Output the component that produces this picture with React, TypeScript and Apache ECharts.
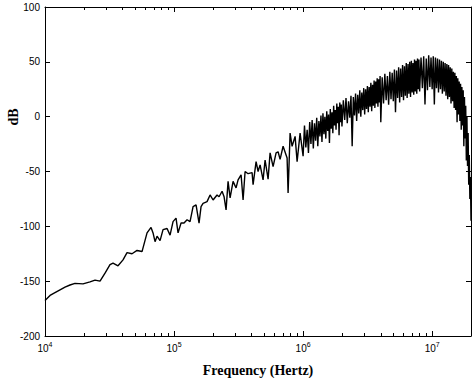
import React, { useEffect, useRef } from "react";
import * as echarts from "echarts";

// Smooth low-frequency part (Hz, dB)
const lowFreq = [1.0e4, 1.094e4, 1.195e4, 1.307e4, 1.429e4, 1.562e4, 1.708e4, 1.97e4, 2.233e4, 2.441e4, 2.669e4, 2.918e4, 3.19e4, 3.366e4, 3.68e4, 4.024e4, 4.322e4, 4.725e4, 5.167e4, 5.648e4, 6.176e4, 6.633e4, 6.874e4, 7.124e4, 7.383e4, 7.79e4, 8.217e4, 8.826e4, 9.312e4, 9.822e4];
const lowDb = [-167.7, -163, -160.5, -158, -155.5, -153.5, -152, -152.5, -150.7, -149, -150, -142.7, -135, -133.5, -136, -130.6, -124, -125, -122, -123, -106, -101, -106, -114, -109, -113, -103, -102, -108, -95.7];

// Mid part, growing ripple
const midFreq = [1.036e5, 1.074e5, 1.133e5, 1.195e5, 1.261e5, 1.33e5, 1.404e5, 1.481e5, 1.562e5, 1.619e5, 1.678e5, 1.802e5, 1.902e5, 2.006e5, 2.154e5, 2.233e5, 2.356e5, 2.441e5, 2.53e5, 2.622e5, 2.718e5, 2.867e5, 3.024e5, 3.134e5, 3.307e5, 3.427e5, 3.552e5, 3.747e5, 4.024e5, 4.097e5, 4.322e5, 4.479e5, 4.642e5, 4.897e5, 5.075e5, 5.355e5, 5.549e5, 5.853e5, 6.176e5, 6.4e5, 6.633e5, 6.998e5, 7.516e5, 7.65e5, 7.928e5, 8.217e5, 8.67e5, 8.985e5, 9.478e5];
const midDb = [-92.5, -106, -97, -97, -94, -95.7, -82, -80.5, -97, -82, -79, -77.5, -71.4, -76, -71.4, -73, -68, -73, -85, -59, -74, -59, -65, -57.7, -53, -76, -50, -52, -51, -62, -41, -50, -44, -57.7, -39.5, -57, -33, -45.5, -33, -32, -39, -27, -37.7, -69.6, -15, -27, -18, -41, -15];

// Dense high-frequency part, 1 MHz to 2 MHz
const band1Freq = [1.0e6, 1.025e6, 1.05e6, 1.075e6, 1.1e6, 1.125e6, 1.15e6, 1.175e6, 1.2e6, 1.225e6, 1.25e6, 1.275e6, 1.3e6, 1.325e6, 1.35e6, 1.375e6, 1.4e6, 1.425e6, 1.45e6, 1.475e6, 1.5e6, 1.525e6, 1.55e6, 1.575e6, 1.6e6, 1.625e6, 1.65e6, 1.675e6, 1.7e6, 1.725e6, 1.75e6, 1.775e6, 1.8e6, 1.825e6, 1.85e6, 1.875e6, 1.9e6, 1.925e6, 1.95e6, 1.975e6, 2.0e6];
const band1Db = [-36, -8, -28, -12, -33, -5, -25, -3, -29, -6, -22, -1, -27, -4, -18, 1, -23, 3, -16, 0, -20, 5, -13, 2, -24, 7, -11, 4, -15, 10, -8, 6, -12, 12, -6, 9, -17, 13, -5, 11, -9];

// 2 MHz to 4 MHz
const band2Freq = [2.05e6, 2.1e6, 2.15e6, 2.2e6, 2.25e6, 2.3e6, 2.35e6, 2.4e6, 2.45e6, 2.5e6, 2.55e6, 2.6e6, 2.65e6, 2.7e6, 2.75e6, 2.8e6, 2.85e6, 2.9e6, 2.95e6, 3.0e6, 3.05e6, 3.1e6, 3.15e6, 3.2e6, 3.25e6, 3.3e6, 3.35e6, 3.4e6, 3.45e6, 3.5e6, 3.55e6, 3.6e6, 3.65e6, 3.7e6, 3.75e6, 3.8e6, 3.85e6, 3.9e6, 3.95e6, 4.0e6];
const band2Db = [15, -3, 17, -6, 14, -1, 19, -27, 18, 1, 21, -4, 20, 3, 24, 0, 22, 6, 26, 2, 25, 7, 28, 4, 27, 9, 31, 5, 29, 10, 33, 8, 32, 12, 35, 9, 34, 13, 37, -5];

// 4 MHz to 8 MHz
const band3Freq = [4.1e6, 4.2e6, 4.3e6, 4.4e6, 4.5e6, 4.6e6, 4.7e6, 4.8e6, 4.9e6, 5.0e6, 5.1e6, 5.2e6, 5.3e6, 5.4e6, 5.5e6, 5.6e6, 5.7e6, 5.8e6, 5.9e6, 6.0e6, 6.1e6, 6.2e6, 6.3e6, 6.4e6, 6.5e6, 6.6e6, 6.7e6, 6.8e6, 6.9e6, 7.0e6, 7.1e6, 7.2e6, 7.3e6, 7.4e6, 7.5e6, 7.6e6, 7.7e6, 7.8e6, 7.9e6, 8.0e6];
const band3Db = [36, 12, 39, 15, 37, 11, 41, 16, 40, 14, 43, 4, 42, 17, 45, 13, 44, 18, 47, 15, 46, 19, 49, 17, 48, 21, 50, 18, 51, 22, 49, 20, 52, 23, 51, 21, 53, 25, 52, 23];

// 8 MHz to 16 MHz
const band4Freq = [8.2e6, 8.4e6, 8.6e6, 8.8e6, 9.0e6, 9.2e6, 9.4e6, 9.6e6, 9.8e6, 1.0e7, 1.02e7, 1.04e7, 1.06e7, 1.08e7, 1.1e7, 1.12e7, 1.14e7, 1.16e7, 1.18e7, 1.2e7, 1.22e7, 1.24e7, 1.26e7, 1.28e7, 1.3e7, 1.32e7, 1.34e7, 1.36e7, 1.38e7, 1.4e7, 1.42e7, 1.44e7, 1.46e7, 1.48e7, 1.5e7, 1.52e7, 1.54e7, 1.56e7, 1.58e7, 1.6e7];
const band4Db = [54, 26, 55, 11, 53, 24, 56, 27, 54, 25, 55, 11, 54, 26, 53, 22, 52, 25, 51, 21, 50, 23, 49, 19, 48, 16, 47, 18, 45, 12, 44, 14, 41, 8, 40, 6, 37, -5, 35, 2];

// 16 MHz to 20 MHz roll-off
const band5Freq = [1.62e7, 1.64e7, 1.66e7, 1.68e7, 1.7e7, 1.72e7, 1.74e7, 1.76e7, 1.78e7, 1.8e7, 1.82e7, 1.84e7, 1.86e7, 1.88e7, 1.9e7, 1.92e7, 1.94e7, 1.96e7, 1.98e7, 2.0e7];
const band5Db = [32, -4, 30, -12, 27, -8, 24, -27, 18, -20, 10, -40, 0, -45, -15, -62, -35, -75, -55, -95];

const xMajorTicks = [1e4, 1e5, 1e6, 1e7];
const xMinorTicks = [2e4, 3e4, 4e4, 5e4, 6e4, 7e4, 8e4, 9e4, 2e5, 3e5, 4e5, 5e5, 6e5, 7e5, 8e5, 9e5, 2e6, 3e6, 4e6, 5e6, 6e6, 7e6, 8e6, 9e6];
const yMin = -200;
const yMax = 100;
const yStep = 50;

const FONT_SANS = '"Liberation Sans", Arial, sans-serif';
const FONT_SERIF = '"Liberation Serif", "Times New Roman", serif';

export default function App() {
  const ref = useRef<HTMLDivElement>(null);
  useEffect(() => {
    if (!ref.current) return;
    const chart = echarts.init(ref.current, null, { renderer: "svg" });
    const pairs = (f: number[], d: number[]) => f.map((v, i) => [v, d[i]]);
    const data = [
      ...pairs(lowFreq, lowDb),
      ...pairs(midFreq, midDb),
      ...pairs(band1Freq, band1Db),
      ...pairs(band2Freq, band2Db),
      ...pairs(band3Freq, band3Db),
      ...pairs(band4Freq, band4Db),
      ...pairs(band5Freq, band5Db),
    ];
    const baseX = {
      type: "log",
      logBase: 10,
      min: 1e4,
      max: 2e7,
      splitLine: { show: false },
      minorTick: { show: false },
      gridIndex: 0,
    };
    const line = { show: true, onZero: false, lineStyle: { color: "#000", width: 1 } };
    const noLine = { show: false, onZero: false };
    const exp = (v: number) => Math.round(Math.log10(v));
    chart.setOption({
      animation: false,
      backgroundColor: "#fff",
      grid: { left: 45, right: 3, top: 7, bottom: 48, containLabel: false },
      xAxis: [
        {
          ...baseX,
          position: "bottom",
          name: "Frequency (Hertz)",
          nameLocation: "middle",
          nameGap: 27,
          nameTextStyle: { fontFamily: FONT_SERIF, fontWeight: "bold", fontSize: 14, color: "#000" },
          axisLine: line,
          axisTick: { show: true, inside: true, length: 5, lineStyle: { color: "#000" }, customValues: xMajorTicks },
          axisLabel: {
            show: true,
            margin: 5,
            customValues: xMajorTicks,
            formatter: (v: number) => `{b|10}{s|${exp(v)}}`,
            rich: {
              b: { fontFamily: FONT_SANS, fontSize: 10, color: "#000", lineHeight: 14 },
              s: { fontFamily: FONT_SANS, fontSize: 7, color: "#000", lineHeight: 6, verticalAlign: "top" },
            },
          },
        },
        {
          ...baseX,
          position: "bottom",
          axisLine: noLine,
          axisTick: { show: true, inside: true, length: 3, lineStyle: { color: "#000" }, customValues: xMinorTicks },
          axisLabel: { show: false },
        },
        {
          ...baseX,
          position: "top",
          axisLine: line,
          axisTick: { show: true, inside: true, length: 5, lineStyle: { color: "#000" }, customValues: xMajorTicks },
          axisLabel: { show: false },
        },
        {
          ...baseX,
          position: "top",
          axisLine: noLine,
          axisTick: { show: true, inside: true, length: 3, lineStyle: { color: "#000" }, customValues: xMinorTicks },
          axisLabel: { show: false },
        },
      ],
      yAxis: [
        {
          type: "value",
          position: "left",
          min: yMin,
          max: yMax,
          interval: yStep,
          splitLine: { show: false },
          axisLine: line,
          axisTick: { show: true, inside: true, length: 5, lineStyle: { color: "#000" } },
          axisLabel: { fontFamily: FONT_SANS, fontSize: 10, color: "#000", margin: 5 },
        },
        {
          type: "value",
          position: "right",
          min: yMin,
          max: yMax,
          interval: yStep,
          splitLine: { show: false },
          axisLine: line,
          axisTick: { show: true, inside: true, length: 5, lineStyle: { color: "#000" } },
          axisLabel: { show: false },
        },
      ],
      graphic: [
        {
          type: "text",
          x: 13,
          y: 117,
          rotation: Math.PI / 2,
          style: {
            text: "dB",
            font: `bold 14px ${FONT_SERIF}`,
            fill: "#000",
            align: "center",
            verticalAlign: "middle",
          },
        },
      ],
      series: [
        {
          type: "line",
          xAxisIndex: 0,
          yAxisIndex: 0,
          data,
          showSymbol: false,
          symbol: "none",
          lineStyle: { color: "#000", width: 1.4 },
          clip: true,
        },
      ],
    });
    return () => chart.dispose();
  }, []);
  return <div ref={ref} style={{ position: "fixed", left: 0, top: 0, width: 474, height: 384 }} />;
}
